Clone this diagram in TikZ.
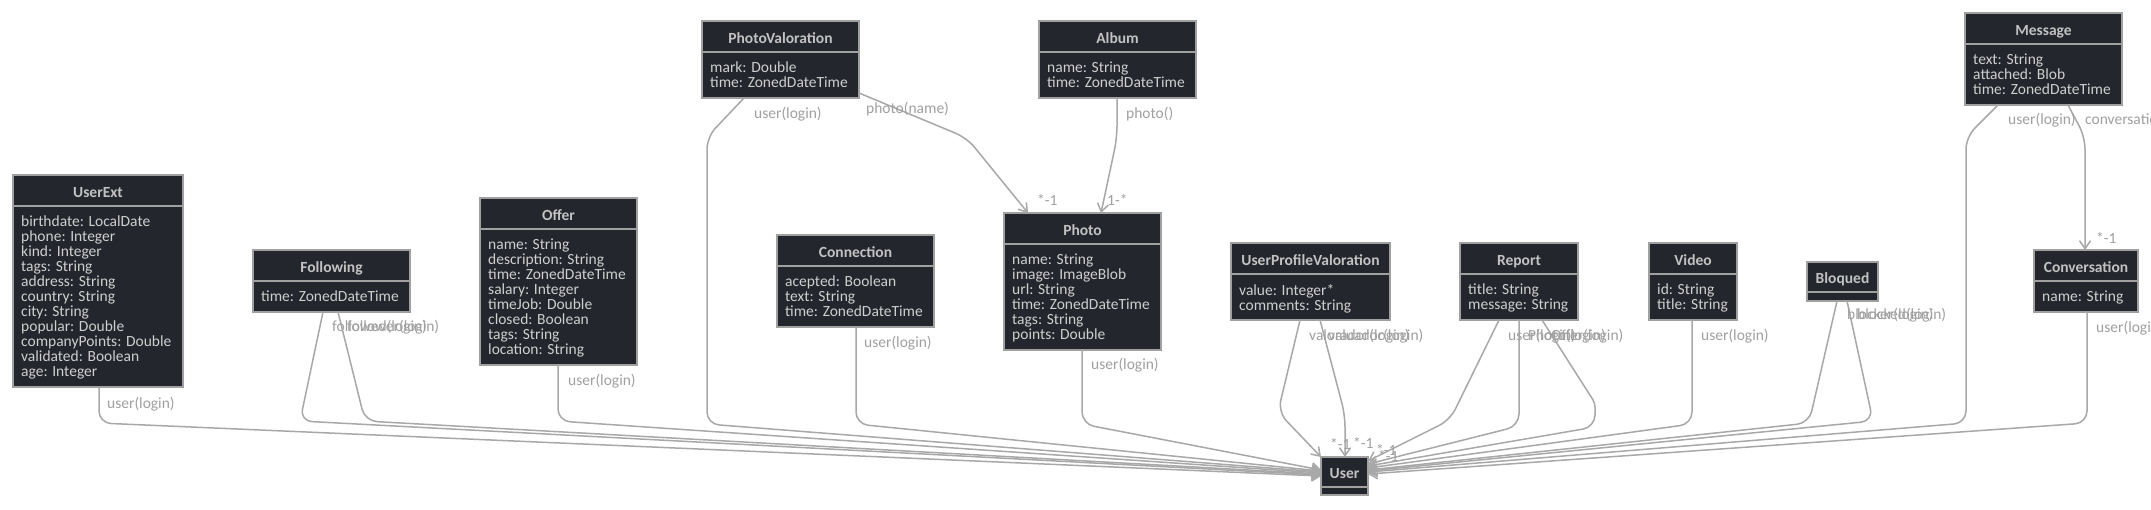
\documentclass[tikz,border=0pt]{standalone}
\usepackage{fontspec}
\setmainfont{Carlito}
\usetikzlibrary{arrows.meta}
\definecolor{boxfill}{HTML}{23262C}
\definecolor{boxline}{HTML}{A0A0A0}
\definecolor{titlecol}{HTML}{C2C2C2}
\definecolor{bodycol}{HTML}{CFCFCF}
\definecolor{edgecol}{HTML}{A8A8A8}
\definecolor{labcol}{HTML}{A0A0A0}
\tikzset{
 clsbox/.style={draw=boxline, fill=boxfill, line width=2pt, inner sep=0pt, outer sep=0pt, rectangle},
 clsdiv/.style={draw=boxline, line width=2pt},
 clstitle/.style={text=titlecol, font=\bfseries\fontsize{15.5}{15}\selectfont, inner sep=0pt, text height=10pt, text depth=0pt},
 clsbody/.style={text=bodycol, font=\fontsize{15.5}{15}\selectfont, inner sep=0pt, align=left,
   execute at begin node={\lineskiplimit=-100pt\lineskip=0pt\relax}},
 rel/.style={draw=edgecol, line width=1.5pt, rounded corners=12pt, -{Straight Barb[length=8pt,width=11pt,line width=1.5pt]}},
 lab/.style={text=labcol, font=\fontsize{15.5}{15}\selectfont, inner sep=0pt, anchor=west, text height=10pt, text depth=0pt},
}
% #1 name, #2 x, #3 y, #4 width, #5 height, #6 header height, #7 title, #8 body
\newcommand\umlcls[8]{%
  \node[clsbox, anchor=north west, minimum width=#4pt, minimum height=#5pt] (#1) at (#2,#3) {};
  \draw[clsdiv] ([yshift=-#6pt]#1.north west) -- ([yshift=-#6pt]#1.north east);
  \node[clstitle] (#1-t) at ([yshift={-(#6pt/2)-1.5pt}]#1.north) {#7};
  \node[clsbody, anchor=north west] (#1-b) at ([xshift=8pt,yshift={-#6pt-10pt}]#1.north west) {#8};
}
\begin{document}
\begin{tikzpicture}[x=1pt,y=-1pt]
\useasboundingbox (0,0) rectangle (2151,509);
\fill[white] (0,0) rectangle (2151,509);

% classes
\umlcls{UserExt}{13}{175}{170}{212}{31}{UserExt}{\strut birthdate: LocalDate\\\strut phone: Integer\\\strut kind: Integer\\\strut tags: String\\\strut address: String\\\strut country: String\\\strut city: String\\\strut popular: Double\\\strut companyPoints: Double\\\strut validated: Boolean\\\strut age: Integer}
\umlcls{Following}{253}{250}{157}{62}{31}{Following}{\strut time: ZonedDateTime}
\umlcls{Offer}{480}{198}{157}{167}{31}{Offer}{\strut name: String\\\strut description: String\\\strut time: ZonedDateTime\\\strut salary: Integer\\\strut timeJob: Double\\\strut closed: Boolean\\\strut tags: String\\\strut location: String}
\umlcls{PhotoValoration}{702}{21}{157}{77}{31}{PhotoValoration}{\strut mark: Double\\\strut time: ZonedDateTime}
\umlcls{Album}{1039}{21}{157}{77}{31}{Album}{\strut name: String\\\strut time: ZonedDateTime}
\umlcls{Connection}{777}{235}{157}{92}{31}{Connection}{\strut acepted: Boolean\\\strut text: String\\\strut time: ZonedDateTime}
\umlcls{Photo}{1004}{213}{157}{137}{31}{Photo}{\strut name: String\\\strut image: ImageBlob\\\strut url: String\\\strut time: ZonedDateTime\\\strut tags: String\\\strut points: Double}
\umlcls{UPV}{1231}{243}{159}{77}{31}{UserProfileValoration}{\strut value: Integer*\\\strut comments: String}
\umlcls{Report}{1460}{243}{118}{77}{31}{Report}{\strut title: String\\\strut message: String}
\umlcls{Video}{1649}{243}{88}{77}{31}{Video}{\strut id: String\\\strut title: String}
\umlcls{Bloqued}{1807}{262}{71}{39}{30}{Bloqued}{}
\umlcls{Conversation}{2034}{250}{104}{62}{31}{Conversation}{\strut name: String}
\umlcls{Message}{1965}{13}{157}{92}{31}{Message}{\strut text: String\\\strut attached: Blob\\\strut time: ZonedDateTime}
\umlcls{User}{1321}{457}{47}{38}{30}{User}{}

% connectors to User (from the left)
\draw[rel] ([xshift=86pt]UserExt.south west) -- (99,423) -- ([yshift=-19pt]User.north west);
\draw[rel] ([xshift=70pt]Following.south west) -- (300,421) -- ([yshift=-18pt]User.north west);
\draw[rel] ([xshift=85pt]Following.south west) -- (365,421) -- ([yshift=-17pt]User.north west);
\draw[rel] ([xshift=78pt]Offer.south west) -- (558,421) -- ([yshift=-16pt]User.north west);
\draw[rel] ([xshift=42pt]PhotoValoration.south west) -- (707,137) -- (707,424) -- ([yshift=-15pt]User.north west);
\draw[rel] ([xshift=79pt]Connection.south west) -- (856,424) -- ([yshift=-14pt]User.north west);
\draw[rel] ([xshift=78pt]Photo.south west) -- (1082,424) -- ([yshift=-13pt]User.north west);
% UserProfileValoration
\draw[rel] ([xshift=69pt]UPV.south west) -- (1278,412) -- (User.north west);
\draw[rel] ([xshift=89pt]UPV.south west) -- (1345,415) -- ([xshift=24pt]User.north west);
% from the right
\draw[rel] ([xshift=39pt]Report.south west) -- (1450,420) -- ([yshift=-4pt]User.north east);
\draw[rel] ([xshift=59pt]Report.south west) -- (1519,426) -- ([yshift=-7pt]User.north east);
\draw[rel, rounded corners=4pt] ([xshift=82pt]Report.south west) -- (1595,403) [rounded corners=12pt] -- (1595,427) -- ([yshift=-9pt]User.north east);
\draw[rel] ([xshift=43pt]Video.south west) -- (1692,424) -- ([yshift=-11pt]User.north east);
\draw[rel] ([xshift=30pt]Bloqued.south west) -- (1809,423) -- ([yshift=-13pt]User.north east);
\draw[rel] ([xshift=40pt]Bloqued.south west) -- (1873,421) -- ([yshift=-14pt]User.north east);
\draw[rel] ([xshift=33pt]Message.south west) -- (1966,137) -- (1966,423) -- ([yshift=-15pt]User.north east);
\draw[rel] ([xshift=53pt]Conversation.south west) -- (2087,423) -- ([yshift=-17pt]User.north east);
% other connectors
\draw[rel] ([xshift=103pt]Message.south west) -- (2085,137) -- ([xshift=51pt]Conversation.north west);
\draw[rel] ([yshift=5pt]PhotoValoration.south east) -- (967,138) -- ([xshift=24pt]Photo.north west);
\draw[rel] ([xshift=78pt]Album.south west) -- (1117,138) -- ([xshift=97pt]Photo.north west);

% labels
\node[lab] (l1) at (107,403) {user(login)};
\node[lab] (l2) at (332,326) {followed(login)};
\node[lab] (l3) at (347,326) {follower(login)};
\node[lab] (l4) at (568,380) {user(login)};
\node[lab] (l5) at (754,113) {user(login)};
\node[lab] (l6) at (866,108) {photo(name)};
\node[lab] (l7) at (1126,113) {photo()};
\node[lab] (l8) at (864,342) {user(login)};
\node[lab] (l9) at (1091,364) {user(login)};
\node[lab] (l10) at (1309,335) {valorador(login)};
\node[lab] (l11) at (1328,335) {valuador(login)};
\node[lab] (l12) at (1508,335) {user(login)};
\node[lab] (l13) at (1528,335) {Photo(login)};
\node[lab] (l14) at (1551,335) {Offer(login)};
\node[lab] (l15) at (1701,335) {user(login)};
\node[lab] (l16) at (1847,314) {blocker(login)};
\node[lab] (l17) at (1857,314) {blocked(login)};
\node[lab] (l18) at (2008,119) {user(login)};
\node[lab] (l19) at (2085,119) {conversation(name)};
\node[lab] (l20) at (2096,327) {user(login)};
% multiplicities
\node[lab] (m1) at (1037,200) {*-1};
\node[lab] (m2) at (1107,200) {1-*};
\node[lab] (m3) at (2096,238) {*-1};
\node[lab] (m4) at (1330,444) {*-1};
\node[lab] (m5) at (1353,443) {*-1};
\node[lab] (m6) at (1376,450) {*-1};
\node[lab] (m7) at (1378,456) {*-1};
\end{tikzpicture}
\end{document}
